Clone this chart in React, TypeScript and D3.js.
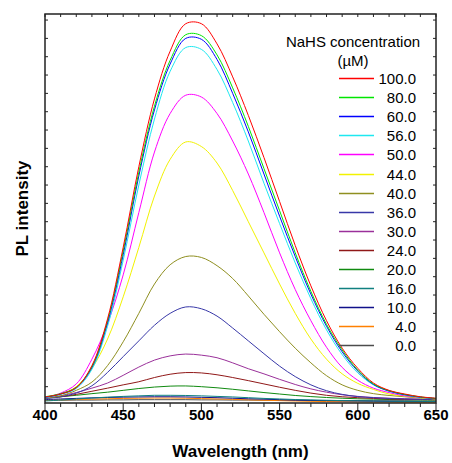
import * as d3 from 'd3';

// wavelength grid (nm) that the curves were read at
const wavelengths = [400, 410, 420, 430, 440, 450, 460, 470, 480, 490, 500, 510, 520, 530, 540, 550, 560, 570, 580, 590, 600, 610, 620, 630, 640, 650];

// PL intensity (a.u.) per NaHS concentration
const conc100 = [0.44, 0.6, 0.95, 2.15, 4.7, 8.6, 13.0, 16.7, 19.3, 20.8, 20.8, 19.7, 17.9, 15.8, 13.5, 11.1, 8.7, 6.5, 4.6, 3.1, 2.0, 1.2, 0.8, 0.6, 0.45, 0.37];
const conc80 = [0.45, 0.62, 0.97, 2.1, 4.6, 8.4, 12.7, 16.3, 18.8, 20.2, 20.15, 19.1, 17.3, 15.2, 12.9, 10.6, 8.3, 6.2, 4.4, 3.0, 1.9, 1.15, 0.78, 0.58, 0.44, 0.36];
const conc60 = [0.42, 0.6, 0.95, 2.05, 4.5, 8.2, 12.5, 16.1, 18.6, 20.0, 19.95, 18.85, 17.0, 14.9, 12.6, 10.3, 8.1, 6.05, 4.3, 2.9, 1.85, 1.12, 0.76, 0.56, 0.43, 0.35];
const conc56 = [0.4, 0.58, 0.9, 1.95, 4.3, 7.9, 12.0, 15.6, 18.2, 19.5, 19.4, 18.3, 16.5, 14.4, 12.1, 9.9, 7.75, 5.8, 4.1, 2.75, 1.75, 1.1, 0.75, 0.55, 0.42, 0.35];
const conc50 = [0.4, 0.65, 1.15, 2.5, 4.45, 7.1, 10.5, 13.8, 15.9, 16.9, 16.8, 15.9, 14.4, 12.6, 10.5, 8.3, 6.3, 4.6, 3.15, 2.05, 1.35, 0.92, 0.68, 0.5, 0.42, 0.35];
const conc44 = [0.4, 0.6, 1.0, 2.0, 3.6, 5.9, 8.6, 11.4, 13.4, 14.35, 14.1, 13.2, 11.7, 10.0, 8.3, 6.6, 5.0, 3.6, 2.5, 1.7, 1.18, 0.85, 0.6, 0.48, 0.4, 0.33];
const conc40 = [0.38, 0.5, 0.8, 1.25, 2.15, 3.45, 5.0, 6.6, 7.65, 8.1, 8.05, 7.6, 6.9, 5.95, 4.95, 4.0, 3.1, 2.3, 1.6, 1.1, 0.8, 0.62, 0.52, 0.45, 0.38, 0.33];
const conc36 = [0.35, 0.45, 0.65, 1.05, 1.78, 2.64, 3.5, 4.35, 5.0, 5.35, 5.25, 4.85, 4.2, 3.5, 2.8, 2.12, 1.55, 1.1, 0.78, 0.58, 0.46, 0.4, 0.36, 0.33, 0.31, 0.3];
const conc30 = [0.38, 0.5, 0.68, 0.92, 1.2, 1.62, 2.07, 2.45, 2.68, 2.78, 2.72, 2.58, 2.3, 1.98, 1.7, 1.4, 1.12, 0.88, 0.7, 0.56, 0.47, 0.41, 0.37, 0.34, 0.32, 0.3];
const conc24 = [0.38, 0.45, 0.58, 0.75, 0.92, 1.1, 1.27, 1.5, 1.68, 1.77, 1.75, 1.65, 1.5, 1.33, 1.15, 0.97, 0.8, 0.65, 0.53, 0.45, 0.4, 0.36, 0.33, 0.31, 0.3, 0.29];
const conc20 = [0.38, 0.45, 0.53, 0.62, 0.7, 0.8, 0.9, 0.98, 1.03, 1.04, 1.0, 0.94, 0.86, 0.77, 0.68, 0.6, 0.52, 0.46, 0.41, 0.37, 0.34, 0.32, 0.3, 0.29, 0.28, 0.27];
const conc16 = [0.22, 0.27, 0.33, 0.38, 0.43, 0.47, 0.5, 0.53, 0.53, 0.52, 0.5, 0.47, 0.44, 0.4, 0.36, 0.33, 0.3, 0.28, 0.26, 0.24, 0.23, 0.22, 0.21, 0.2, 0.2, 0.19];
const conc10 = [0.3, 0.33, 0.36, 0.39, 0.41, 0.43, 0.44, 0.45, 0.45, 0.44, 0.42, 0.4, 0.37, 0.34, 0.32, 0.29, 0.27, 0.25, 0.24, 0.23, 0.22, 0.21, 0.2, 0.2, 0.19, 0.19];
const conc4 = [0.26, 0.28, 0.3, 0.32, 0.34, 0.36, 0.37, 0.38, 0.38, 0.37, 0.35, 0.33, 0.31, 0.28, 0.26, 0.24, 0.22, 0.2, 0.19, 0.18, 0.17, 0.16, 0.16, 0.15, 0.15, 0.15];
const conc0 = [0.25, 0.26, 0.27, 0.27, 0.28, 0.28, 0.29, 0.29, 0.29, 0.29, 0.28, 0.28, 0.27, 0.27, 0.26, 0.26, 0.25, 0.25, 0.24, 0.24, 0.24, 0.23, 0.23, 0.23, 0.22, 0.22];

const legendLabels = ['100.0', '80.0', '60.0', '56.0', '50.0', '44.0', '40.0', '36.0', '30.0', '24.0', '20.0', '16.0', '10.0', '4.0', '0.0'];
const seriesValues = [conc100, conc80, conc60, conc56, conc50, conc44, conc40, conc36, conc30, conc24, conc20, conc16, conc10, conc4, conc0];
const colors = ['#ff0000', '#00e600', '#0000ff', '#1ee8f0', '#ff00ff', '#f2f200', '#8f8f20', '#3838a8', '#9a309a', '#901818', '#108a10', '#108080', '#10108a', '#ff8000', '#4d4d4d'];

const xTicks = [400, 450, 500, 550, 600, 650];

const W = 452;
const H = 463;
const margin = { top: 14, right: 16, bottom: 60, left: 45 };
const font = '"Liberation Sans", Arial, sans-serif';

export default function App() {
  const x = d3.scaleLinear().domain([400, 650]).range([margin.left, W - margin.right]);
  const y = d3.scaleLinear().domain([0.11, 21.33]).range([H - margin.bottom, margin.top]);
  const [x0, x1] = x.range();
  const [yb, yt] = y.range();

  const line = d3.line<number>()
    .x((_, i) => x(wavelengths[i]))
    .y(d => y(d))
    .curve(d3.curveCatmullRom.alpha(0.5));

  const minorX = d3.range(400, 651, 10);
  const yTicks = d3.range(1, 22);

  // legend placement
  const legLineX0 = 339, legLineX1 = 374, legTextX = 416;
  const legRow0 = 78.5, legStep = 19.1;

  return (
    <svg width={W} height={H} style={{ position: 'absolute', left: 0, top: 0, display: 'block' }} fontFamily={font}>
      <rect width={W} height={H} fill="#fff" />
      <defs>
        <clipPath id="plot-clip">
          <rect x={x0} y={yt} width={x1 - x0} height={yb - yt} />
        </clipPath>
      </defs>

      {/* curves, lowest concentration first so 100 ends on top */}
      <g clipPath="url(#plot-clip)" fill="none">
        {seriesValues.map((vals, i) => i).reverse().map(i => (
          <path key={i} d={line(seriesValues[i]) ?? ''} stroke={colors[i]} strokeWidth={1} />
        ))}
      </g>

      {/* frame */}
      <rect x={x0} y={yt} width={x1 - x0} height={yb - yt} fill="none" stroke="#222" strokeWidth={1.5} />

      {/* bottom ticks (outward), top ticks (inward) */}
      {minorX.map(v => {
        const major = v % 50 === 0;
        return (
          <g key={v} stroke="#222" strokeWidth={1}>
            <line x1={x(v)} x2={x(v)} y1={yb} y2={yb + (major ? 7 : 4)} />
            <line x1={x(v)} x2={x(v)} y1={yt} y2={yt + 3} />
          </g>
        );
      })}
      {/* left/right ticks (inward) */}
      {yTicks.map(t => (
        <g key={t} stroke="#222" strokeWidth={1}>
          <line x1={x0} x2={x0 + 3} y1={y(t)} y2={y(t)} />
          <line x1={x1} x2={x1 - 3} y1={y(t)} y2={y(t)} />
        </g>
      ))}

      {xTicks.map(v => (
        <text key={v} x={x(v)} y={420} textAnchor="middle" fontSize={15} fontWeight="bold" fill="#000">{v}</text>
      ))}

      <text x={(x0 + x1) / 2} y={457} textAnchor="middle" fontSize={17} fontWeight="bold">Wavelength (nm)</text>
      <text transform={`translate(28,${(yt + yb) / 2}) rotate(-90)`} textAnchor="middle" fontSize={17} fontWeight="bold">PL intensity</text>

      {/* legend */}
      <text x={353} y={47} textAnchor="middle" fontSize={15}>NaHS concentration</text>
      <text x={353} y={66} textAnchor="middle" fontSize={15}>(µM)</text>
      {legendLabels.map((lab, i) => {
        const ly = Math.floor(legRow0 + i * legStep) + 0.5;
        return (
          <g key={lab}>
            <line x1={legLineX0} x2={legLineX1} y1={ly} y2={ly} stroke={colors[i]} strokeWidth={1.5} />
            <text x={legTextX} y={ly + 5.5} textAnchor="end" fontSize={15}>{lab}</text>
          </g>
        );
      })}
    </svg>
  );
}
